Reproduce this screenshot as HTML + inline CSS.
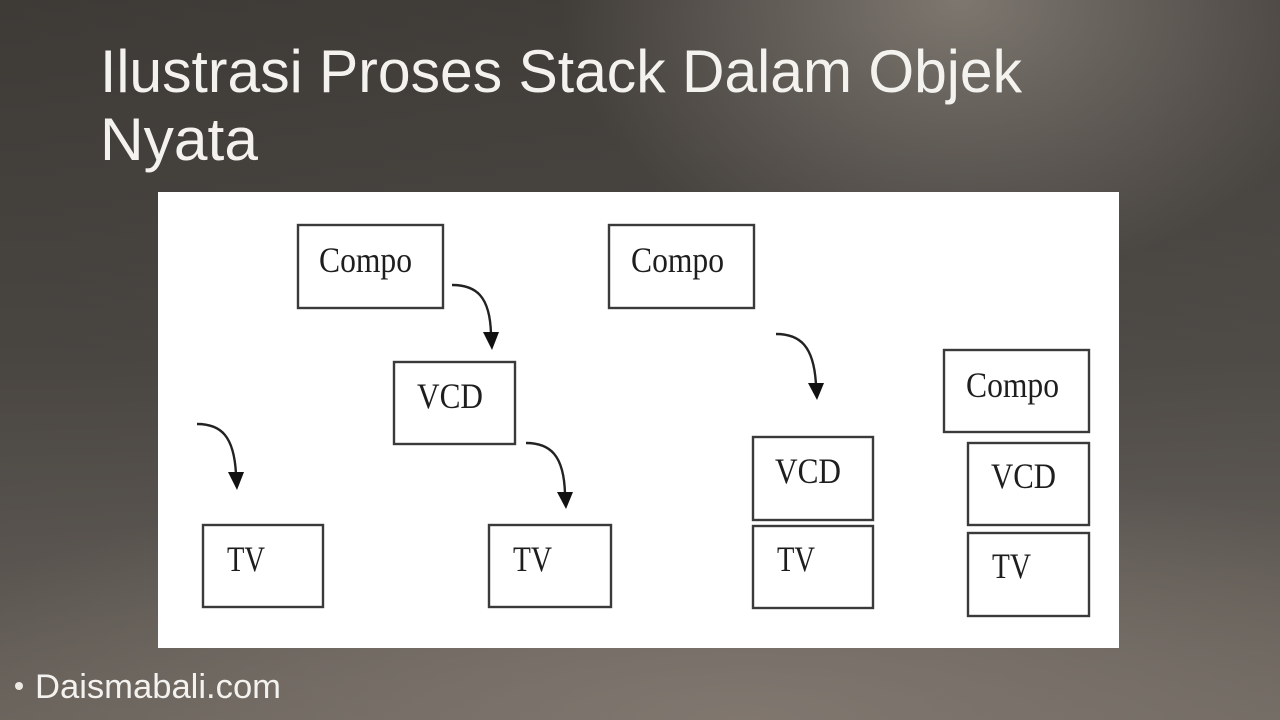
<!DOCTYPE html>
<html><head><meta charset="utf-8"><style>
html,body{margin:0;padding:0;}
body{width:1280px;height:720px;overflow:hidden;position:relative;
background:
radial-gradient(ellipse 400px 280px at 75% 0%, rgba(128,122,114,0.95), rgba(128,122,114,0) 100%),
radial-gradient(ellipse 900px 260px at 58% 100%, rgba(128,119,111,1), rgba(128,119,111,0) 100%),
linear-gradient(90deg, rgba(0,0,0,0.03) 0%, rgba(255,255,255,0.02) 100%),
linear-gradient(180deg,#403c38 0%,#4b4743 50%,#6a645d 100%);}
svg{position:absolute;left:0;top:0;}
</style></head><body>
<svg width="1280" height="720" viewBox="0 0 1280 720">
<text x="100" y="92" font-family="Liberation Sans, sans-serif" font-size="60" fill="#f4f2ef" textLength="922" lengthAdjust="spacingAndGlyphs">Ilustrasi Proses Stack Dalam Objek</text>
<text x="100" y="160" font-family="Liberation Sans, sans-serif" font-size="60" fill="#f4f2ef" textLength="158" lengthAdjust="spacingAndGlyphs">Nyata</text>
<circle cx="19" cy="686" r="4" fill="#ece9e5"/>
<text x="35" y="698" font-family="Liberation Sans, sans-serif" font-size="34" fill="#f4f2ef" textLength="246" lengthAdjust="spacingAndGlyphs">Daismabali.com</text>

<rect x="158" y="192" width="961" height="456" fill="#ffffff"/>

<g fill="none" stroke="#3a3a3a" stroke-width="2.4">
<rect x="298" y="225" width="145" height="83"/>
<rect x="394" y="362" width="121" height="82"/>
<rect x="203" y="525" width="120" height="82"/>
<rect x="489" y="525" width="122" height="82"/>
<rect x="609" y="225" width="145" height="83"/>
<rect x="753" y="437" width="120" height="83"/>
<rect x="753" y="526" width="120" height="82"/>
<rect x="944" y="350" width="145" height="82"/>
<rect x="968" y="443" width="121" height="82"/>
<rect x="968" y="533" width="121" height="83"/>
</g>

<g fill="none" stroke="#222" stroke-width="2.4">
<path d="M452,285 C476,285 490,296 491,334"/>
<path d="M197,424 C221,424 234,436 236,474"/>
<path d="M526,443 C550,443 564,455 565,494"/>
<path d="M776,334 C800,334 814,346 816,385"/>
</g>
<g fill="#111">
<polygon points="483,332 499,332 492,350"/>
<polygon points="228,472 244,472 237,490"/>
<polygon points="557,492 573,492 566,509"/>
<polygon points="808,383 824,383 817,400"/>
</g>

<g font-family="Liberation Serif, serif" font-size="36" fill="#1e1e1e">
<text x="319" y="272" textLength="93" lengthAdjust="spacingAndGlyphs">Compo</text>
<text x="417" y="408" textLength="66" lengthAdjust="spacingAndGlyphs">VCD</text>
<text x="227" y="571" textLength="38" lengthAdjust="spacingAndGlyphs">TV</text>
<text x="513" y="571" textLength="39" lengthAdjust="spacingAndGlyphs">TV</text>
<text x="631" y="272" textLength="93" lengthAdjust="spacingAndGlyphs">Compo</text>
<text x="775" y="483" textLength="66" lengthAdjust="spacingAndGlyphs">VCD</text>
<text x="777" y="571" textLength="38" lengthAdjust="spacingAndGlyphs">TV</text>
<text x="966" y="397" textLength="93" lengthAdjust="spacingAndGlyphs">Compo</text>
<text x="991" y="488" textLength="65" lengthAdjust="spacingAndGlyphs">VCD</text>
<text x="992" y="578" textLength="39" lengthAdjust="spacingAndGlyphs">TV</text>
</g>
</svg>
</body></html>
